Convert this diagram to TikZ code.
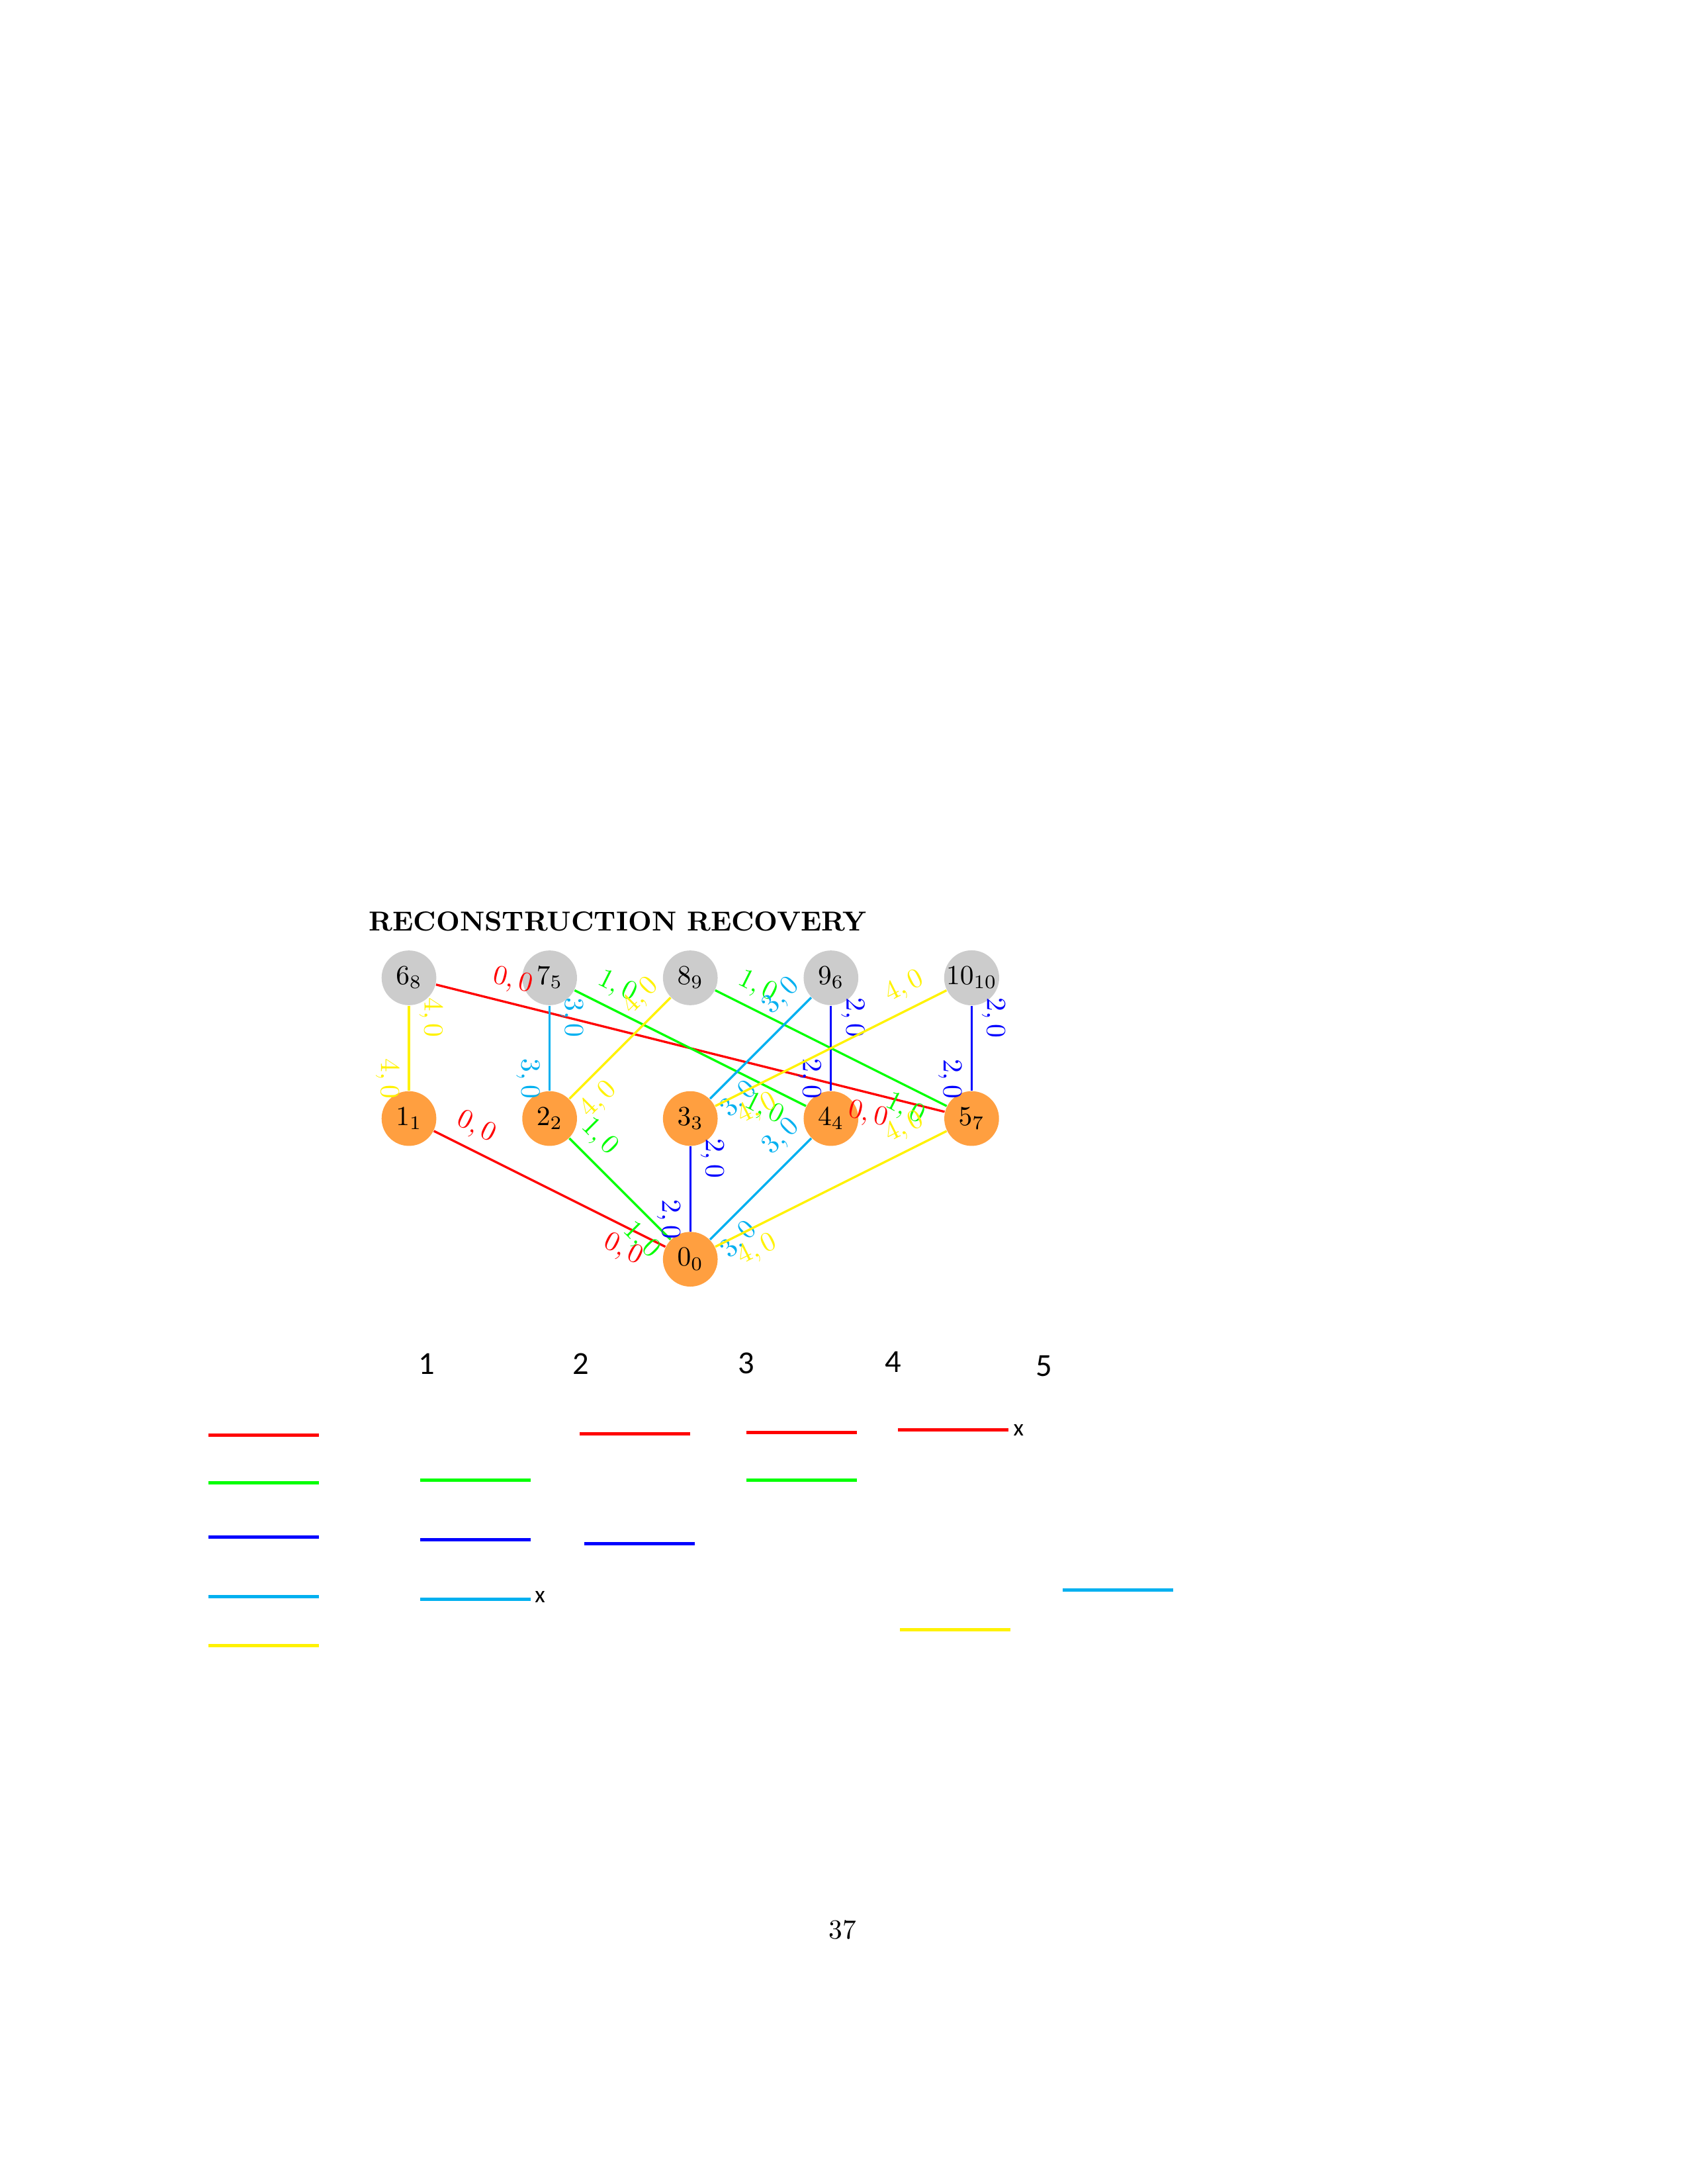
\documentclass[tikz,border=0pt]{standalone}
\usepackage{fontspec}
\usepackage{xcolor}
\usepackage{tikz}
\usetikzlibrary{positioning}
\newfontfamily\legfont{Carlito}
\definecolor{lblue}{RGB}{0,176,240}

\begin{document}
\begin{tikzpicture}[
			org/.style={circle, fill=orange!75, minimum size=0.7cm, inner sep=0pt},
			gry/.style={circle, fill=gray!40, minimum size=0.7cm, inner sep=0pt},
			ed/.style={thick},
			lb/.style={sloped},
			lg/.style={very thick},
			hd/.style={anchor=base, inner sep=0pt, font=\legfont\fontsize{11.7}{14}\selectfont},
			xm/.style={inner sep=0pt, font=\legfont\fontsize{8.6}{10}\selectfont}]
			\useasboundingbox (-8.833,-11.831) rectangle (12.758,16.110);
			\node[anchor=base west, inner sep=0pt] (title) at (-4.12,4.20) {\bfseries RECONSTRUCTION RECOVERY};
			% gerettete Knoten
			\node[org] (n0)  at (0,0)      {$0_0$};
			\node[org] (n1)  at (-3.6,1.8) {$1_1$};
			\node[org] (n2)  at (-1.8,1.8) {$2_2$};
			\node[org] (n3)  at (0,1.8)    {$3_3$};
			\node[org] (n4)  at (1.8,1.8)  {$4_4$};
			\node[org] (n5)  at (3.6,1.8)  {$5_7$};
			% verlorene Knoten
			\node[gry] (n6)  at (-3.6,3.6) {$6_8$};
			\node[gry] (n7)  at (-1.8,3.6) {$7_5$};
			\node[gry] (n8)  at (0,3.6)    {$8_9$};
			\node[gry] (n9)  at (1.8,3.6)  {$9_6$};
			\node[gry] (n10) at (3.6,3.6)  {$10_{10}$};
			\foreach \a/\b/\c/\l in {n6/n1/yellow/4, n6/n5/red/0, n7/n2/lblue/3, n7/n4/green/1,
				n8/n2/yellow/4, n8/n5/green/1, n9/n4/blue/2, n9/n3/lblue/3, n10/n5/blue/2,
				n10/n3/yellow/4, n1/n0/red/0, n2/n0/green/1, n3/n0/blue/2, n4/n0/lblue/3, n5/n0/yellow/4}
				\draw[ed, color=\c] (\a) -- node[lb, pos=0.14, above] {$\l,0$}
					node[lb, pos=0.86, below] {$\l,0$} (\b);
			% Spaltenköpfe
			\node[hd] (c1) at (-3.373,-1.473) {1};
			\node[hd] (c2) at (-1.399,-1.473) {2};
			\node[hd] (c3) at (0.716,-1.467)  {3};
			\node[hd] (c4) at (2.592,-1.450)  {4};
			\node[hd] (c5) at (4.528,-1.501)  {5};
			% Farbleisten
			\foreach \c/\y in {red/-2.249, green/-2.858, blue/-3.553, lblue/-4.315, yellow/-4.941}
				\draw[lg, color=\c] (-6.164,\y) -- ++(1.412,0);
			\foreach \c/\x/\y in {green/-3.456/-2.824, blue/-3.456/-3.586, lblue/-3.456/-4.348,
				red/-1.416/-2.232, blue/-1.356/-3.637, red/0.718/-2.215, green/0.718/-2.824,
				red/2.658/-2.181, yellow/2.684/-4.738, lblue/4.765/-4.230}
				\draw[lg, color=\c] (\x,\y) -- ++(1.412,0);
			\node[xm] (x1) at (-1.924,-4.321) {x};
			\node[xm] (x4) at (4.200,-2.187)  {x};
			\node[anchor=base] (pg) at (1.948,-8.690) {37};
		\end{tikzpicture}
\end{document}
